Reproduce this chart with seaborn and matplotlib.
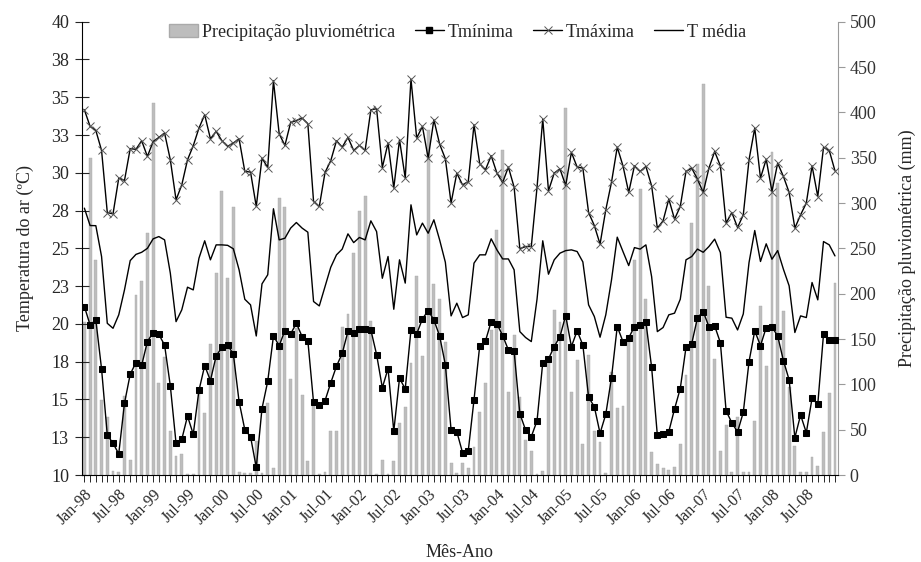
import numpy as np
import pandas as pd
import matplotlib
matplotlib.use("Agg")
import matplotlib.pyplot as plt
import seaborn as sns
from matplotlib.patches import Patch
from matplotlib.lines import Line2D

# monthly series, Jan-98 .. Dec-08 (132 months)
tmin = [21.15, 19.93, 20.26, 17.02, 12.65, 12.1, 11.4, 14.75, 16.67, 17.44, 17.26, 18.83,
        19.43, 19.3, 18.6, 15.9, 12.1, 12.36, 13.9, 12.7, 15.6, 17.24, 16.25, 17.88,
        18.45, 18.6, 18.0, 14.86, 13.0, 12.54, 10.5, 14.4, 16.2, 19.2, 18.56, 19.56,
        19.34, 20.04, 19.16, 18.9, 14.8, 14.64, 14.92, 16.1, 17.2, 18.05, 19.5, 19.42,
        19.69, 19.69, 19.6, 17.97, 15.78, 17.04, 12.9, 16.4, 15.7, 19.6, 19.34, 20.33,
        20.88, 20.26, 19.2, 17.3, 12.98, 12.87, 11.48, 11.6, 14.97, 18.56, 18.87, 20.15,
        20.0, 19.23, 18.28, 18.19, 14.06, 12.98, 12.54, 13.58, 17.44, 17.68, 18.5, 19.16,
        20.55, 18.5, 19.54, 18.6, 15.15, 14.52, 12.76, 14.02, 16.45, 19.82, 18.83, 19.07,
        19.82, 19.93, 20.13, 17.13, 12.63, 12.72, 12.87, 14.37, 15.72, 18.45, 18.7, 20.4,
        20.82, 19.82, 19.87, 18.76, 14.24, 13.46, 12.85, 14.15, 17.5, 19.54, 18.56, 19.76,
        19.8, 19.2, 17.57, 16.3, 12.47, 13.97, 12.8, 15.08, 14.68, 19.32, 18.92, 18.92]

tmax = [34.17, 33.07, 32.8, 31.48, 27.37, 27.28, 29.65, 29.49, 31.6, 31.55, 32.12, 31.08,
        32.07, 32.34, 32.63, 30.86, 28.21, 29.2, 30.86, 31.79, 32.96, 33.84, 32.25, 32.74,
        32.12, 31.75, 31.97, 32.25, 30.09, 30.05, 27.77, 30.97, 30.35, 36.09, 32.58, 31.81,
        33.33, 33.46, 33.62, 33.25, 28.1, 27.77, 30.02, 30.8, 32.12, 31.7, 32.34, 31.48,
        31.81, 31.48, 34.17, 34.24, 30.35, 31.97, 28.99, 32.19, 29.65, 36.2, 32.3, 33.07,
        30.97, 33.51, 31.9, 30.93, 28.0, 29.98, 29.2, 29.42, 33.18, 30.6, 30.2, 31.13,
        29.98, 29.36, 30.38, 29.05, 24.97, 25.12, 25.12, 29.03, 33.56, 28.81, 29.98, 30.26,
        29.16, 31.35, 30.38, 30.31, 27.37, 26.51, 25.28, 27.55, 29.38, 31.7, 30.46, 28.7,
        30.46, 30.09, 30.42, 29.14, 26.34, 26.82, 28.26, 26.93, 27.77, 30.09, 30.31, 29.58,
        28.7, 30.31, 31.41, 30.46, 26.67, 27.37, 26.38, 27.22, 30.86, 32.96, 29.65, 30.9,
        28.76, 30.64, 29.76, 28.7, 26.34, 27.22, 28.0, 30.46, 28.43, 31.68, 31.48, 30.13]

tmed = [27.66, 26.51, 26.5, 24.46, 20.04, 19.71, 20.6, 22.25, 24.19, 24.6, 24.74, 25.0,
        25.63, 25.78, 25.56, 23.36, 20.15, 20.93, 22.43, 22.25, 24.35, 25.5, 24.24, 25.23,
        25.23, 25.2, 24.97, 23.58, 21.63, 21.26, 19.2, 22.65, 23.25, 27.62, 25.56, 25.67,
        26.34, 26.71, 26.34, 26.07, 21.48, 21.19, 22.47, 23.75, 24.57, 24.95, 25.96, 25.38,
        25.72, 25.56, 26.82, 26.11, 23.02, 24.46, 20.97, 24.24, 22.7, 27.88, 25.89, 26.67,
        26.0, 26.89, 25.56, 24.08, 20.53, 21.37, 20.42, 20.6, 24.02, 24.57, 24.57, 25.63,
        24.9, 24.3, 24.3, 23.58, 19.49, 19.1, 18.83, 21.63, 25.5, 23.29, 24.24, 24.68,
        24.85, 24.9, 24.79, 24.1, 21.26, 20.49, 19.12, 20.6, 22.91, 25.74, 24.79, 23.86,
        25.05, 24.95, 25.23, 23.13, 19.49, 19.76, 20.6, 20.71, 21.63, 24.24, 24.46, 24.95,
        24.74, 25.12, 25.61, 24.72, 20.44, 20.38, 19.6, 20.66, 24.06, 26.18, 24.13, 25.3,
        24.28, 24.85, 23.62, 22.52, 19.43, 20.53, 20.42, 22.74, 21.59, 25.45, 25.23, 24.5]

precip = [169, 350, 237, 83, 64, 4, 3, 87, 17, 199, 214, 267,
          410, 101, 130, 49, 21, 23, 1, 1, 90, 68, 145, 223,
          313, 217, 296, 3, 2, 2, 38, 2, 79, 8, 306, 296,
          106, 162, 88, 15, 79, 1, 3, 49, 49, 163, 178, 245,
          291, 308, 170, 1, 17, 1, 15, 57, 75, 124, 220, 131,
          380, 211, 194, 147, 13, 2, 13, 8, 31, 70, 101, 160,
          270, 359, 92, 154, 86, 39, 26, 1, 4, 127, 182, 169,
          405, 92, 127, 34, 132, 48, 36, 2, 114, 74, 76, 151,
          237, 316, 194, 25, 12, 8, 5, 9, 34, 110, 278, 343,
          431, 209, 128, 26, 55, 3, 64, 3, 3, 60, 186, 120,
          356, 322, 181, 97, 32, 3, 3, 20, 10, 47, 90, 212]

tick_labels = ["Jan-98", "Jul-98", "Jan-99", "Jul-99", "Jan-00", "Jul-00", "Jan-01", "Jul-01",
               "Jan-02", "Jul-02", "Jan-03", "Jul-03", "Jan-04", "Jul-04", "Jan-05", "Jul-05",
               "Jan-06", "Jul-06", "Jan-07", "Jul-07", "Jan-08", "Jul-08"]
temp_ticks = ["10", "13", "15", "18", "20", "23", "25", "28", "30", "33", "35", "38", "40"]

df = pd.DataFrame({"pos": np.arange(len(tmin)), "tmin": tmin, "tmax": tmax,
                   "tmed": tmed, "precip": precip})

sns.set_style("ticks")
plt.rcParams["font.family"] = ["Liberation Serif", "DejaVu Serif"]

fig = plt.figure(figsize=(9.21, 5.62), dpi=100)
ax = fig.add_axes([0.0885, 0.1548, 0.8212, 0.8066])
ax2 = ax.twinx()

# rain bars on the secondary axis, behind the temperature lines
sns.barplot(data=df, x="pos", y="precip", ax=ax2, native_scale=True, color="#BDBDBD",
            saturation=1, width=0.5, errorbar=None, edgecolor="#AAAAAA", linewidth=0.3)

sns.lineplot(data=df, x="pos", y="tmed", ax=ax, color="black", lw=1.0)
sns.lineplot(data=df, x="pos", y="tmax", ax=ax, color="black", lw=1.0, marker="x",
             markersize=5.5, markeredgecolor="#555555", markeredgewidth=0.7)
sns.lineplot(data=df, x="pos", y="tmin", ax=ax, color="black", lw=1.0, marker="s",
             markersize=4.6, markeredgecolor="black")

ax.set_zorder(ax2.get_zorder() + 1)
ax.patch.set_visible(False)

n = len(tmin)
ax.set_xlim(-0.5, n - 0.5)
ax.set_ylim(10, 40)
ax2.set_ylim(0, 500)

ax.set_yticks(np.arange(10, 40.1, 2.5))
ax.set_yticklabels(temp_ticks, fontsize=13)
ax.tick_params(axis="y", direction="inout", length=10, width=0.8, pad=4)
ax2.set_yticks(np.arange(0, 501, 50))
ax2.tick_params(axis="y", labelsize=13, colors="#9A9A9A", labelcolor="#333333",
                direction="out", length=5, width=0.8)

ax.set_xticks(np.arange(0, n, 6))
ax.set_xticklabels(tick_labels, rotation=45, ha="right", rotation_mode="anchor", fontsize=11.5)
ax.set_xticks(np.arange(n), minor=True)
ax.tick_params(axis="x", which="both", direction="out", length=5, width=0.7, pad=3)

for s in ["top", "right"]:
    ax.spines[s].set_visible(False)
for s in ["top", "left", "bottom"]:
    ax2.spines[s].set_visible(False)
ax2.spines["right"].set_color("#9A9A9A")
ax.spines["left"].set_color("black")
ax.spines["bottom"].set_color("black")

ax.set_xlabel("Mês-Ano", fontsize=13, labelpad=12)
ax.set_ylabel("Temperatura do ar (ºC)", fontsize=13, labelpad=12)
ax2.set_ylabel("Precipitação pluviométrica (mm)", fontsize=13, labelpad=16)
ax2.set_xlabel("")

handles = [Patch(facecolor="#BDBDBD", edgecolor="#AAAAAA"),
           Line2D([], [], color="black", lw=1.0, marker="s", markersize=4.6),
           Line2D([], [], color="black", lw=1.0, marker="x", markersize=5.5,
                  markeredgecolor="#555555", markeredgewidth=0.7),
           Line2D([], [], color="black", lw=1.0)]
labels = ["Precipitação pluviométrica", "Tmínima", "Tmáxima", "T média"]
fig.legend(handles, labels, loc="center", bbox_to_anchor=(0.497, 0.943), ncol=4,
           frameon=False, fontsize=13, handlelength=1.6, handletextpad=0.2,
           columnspacing=1.1)

fig.savefig("out.png", dpi=100)
